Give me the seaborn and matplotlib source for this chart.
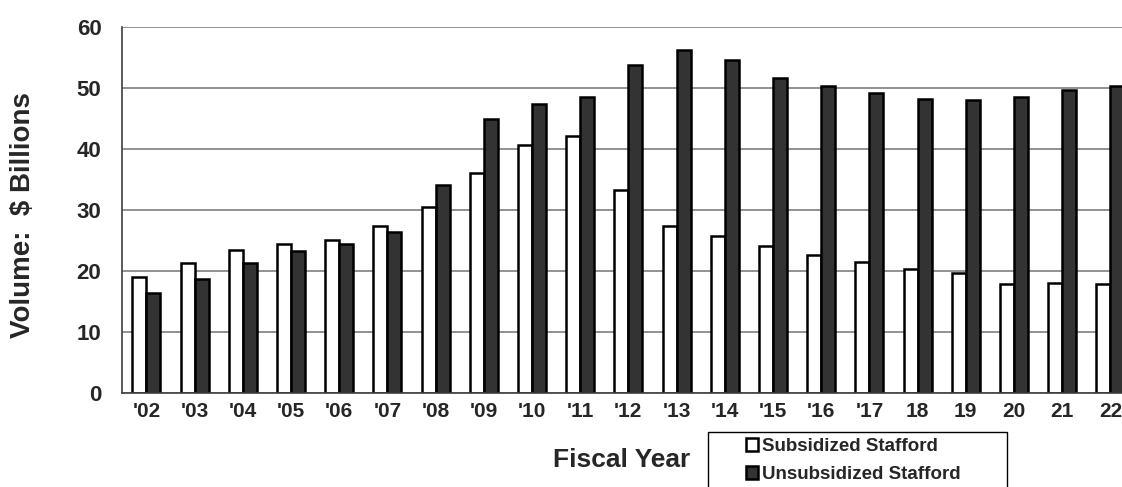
import matplotlib
matplotlib.use("Agg")
import matplotlib.pyplot as plt
from matplotlib.patches import Rectangle
from matplotlib.ticker import FixedLocator
import numpy as np
import pandas as pd
import seaborn as sns

# Stafford loan volume by fiscal year ($ billions)
years = ["'02", "'03", "'04", "'05", "'06", "'07", "'08", "'09", "'10", "'11",
         "'12", "'13", "'14", "'15", "'16", "'17", "18", "19", "20", "21", "22"]
subsidized = [18.9, 21.3, 23.4, 24.4, 25.0, 27.4, 30.4, 36.0, 40.6, 42.1,
              33.3, 27.4, 25.7, 24.0, 22.5, 21.4, 20.3, 19.6, 17.9, 18.0, 17.9]
unsubsidized = [16.3, 18.6, 21.2, 23.3, 24.3, 26.3, 34.0, 44.8, 47.3, 48.4,
                53.7, 56.1, 54.6, 51.6, 50.3, 49.1, 48.1, 48.0, 48.5, 49.7, 50.2]
series_names = ["Subsidized Stafford", "Unsubsidized Stafford"]
y_ticks = [0, 10, 20, 30, 40, 50, 60]

df = pd.DataFrame({
    "year": years * 2,
    "volume": subsidized + unsubsidized,
    "series": [series_names[0]] * len(years) + [series_names[1]] * len(years),
})

sns.set_style("white")
plt.rcParams["font.family"] = ["Liberation Sans", "DejaVu Sans"]
plt.rcParams["font.weight"] = "bold"

W, H = 1122, 487
fig = plt.figure(figsize=(W / 100, H / 100), dpi=100)
left, right, top, bottom = 122.3, 1134.5, 26.7, 392.7
ax = fig.add_axes([left / W, 1 - bottom / H, (right - left) / W, (bottom - top) / H])

sns.barplot(data=df, x="year", y="volume", hue="series", order=years,
            hue_order=series_names,
            palette={series_names[0]: "white", series_names[1]: "#333333"},
            edgecolor="black", linewidth=1.8, width=0.58, saturation=1,
            ax=ax)

ax.set_xlim(-0.5, len(years) - 0.5)
ax.set_ylim(0, 60)
ax.set_yticks(y_ticks)
ax.set_axisbelow(True)
ax.yaxis.grid(True, color="#7f7f7f", linewidth=1.2)
ax.xaxis.grid(False)

for side in ("top", "right"):
    ax.spines[side].set_visible(False)
for side in ("left", "bottom"):
    ax.spines[side].set_color("#404040")
    ax.spines[side].set_linewidth(1.2)

ax.tick_params(axis="y", which="major", length=5, width=1, color="#404040",
               direction="out", pad=10, labelsize=16)
ax.tick_params(axis="x", which="major", length=0, pad=7, labelsize=15)
ax.xaxis.set_minor_locator(FixedLocator(np.arange(-0.5, len(years), 1.0)))
ax.tick_params(axis="x", which="minor", length=4, width=1, color="#404040",
               direction="out")
for lbl in ax.get_xticklabels() + ax.get_yticklabels():
    lbl.set_fontweight("bold")

ax.set_xlabel("")
ax.set_ylabel("")
fig.text(23 / W, 1 - 215 / H, "Volume:  $ Billions", fontsize=20,
         fontweight="bold", rotation=90, ha="center", va="center")

handles, labels = ax.get_legend_handles_labels()
ax.get_legend().remove()

fig.text(622 / W, 1 - 460 / H, "Fiscal Year", fontsize=19, fontweight="bold",
         ha="center", va="center")

# legend box, running off the bottom edge
box_left, box_top, box_right = 708, 431.7, 1007
fig.patches.append(Rectangle((box_left / W, -0.05), (box_right - box_left) / W,
                             1 - box_top / H + 0.05, transform=fig.transFigure,
                             facecolor="white", edgecolor="black", linewidth=1.0))
fig.legend(handles, labels, loc="upper left",
           bbox_to_anchor=(746 / W, 1 - 438 / H), frameon=False,
           prop={"weight": "bold", "size": 13.5}, handlelength=0.64,
           handleheight=0.64, handletextpad=0.2, labelspacing=0.6,
           borderpad=0, borderaxespad=0)

fig.savefig("out.png", dpi=100)
